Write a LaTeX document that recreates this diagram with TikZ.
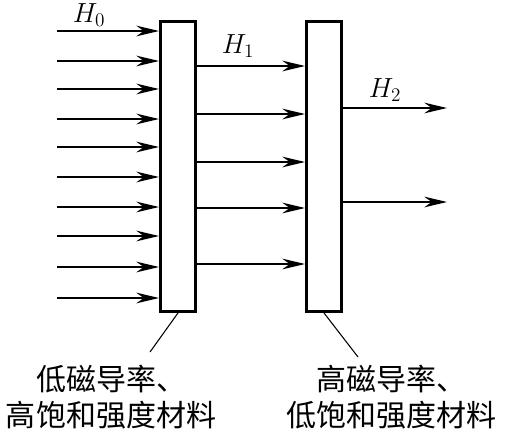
\documentclass[tikz,border=0pt]{standalone}
\usepackage{fontspec}
\newfontfamily\cjk{Noto Sans CJK SC}
\usetikzlibrary{arrows.meta}
\begin{document}
\begin{tikzpicture}[x=0.75pt,y=-0.75pt,
  panel/.style={draw, line width=2.2pt, minimum width=26.25pt, minimum height=217.5pt, inner sep=0pt, fill=white},
  fluxarrow/.style={line width=1pt, -{Stealth[length=17pt,width=8pt,inset=5.5pt]}},
  leader/.style={line width=0.8pt},
  hlabel/.style={font=\fontsize{22}{26}\selectfont, inner sep=0pt},
  material/.style={font=\cjk\fontsize{22.5}{27}\selectfont, align=center, inner sep=0pt}]
\useasboundingbox (0,0) rectangle (505,431);
\node[panel] (box1) at (178,166.5) {};
\node[panel] (box2) at (324,166.5) {};
% incoming H0
\foreach \y [count=\i] in {31,61,89,119,147,177,207,236,267,298}{
  \coordinate (l\i) at (57,\y);
  \draw[fluxarrow] (l\i) -- (l\i -| box1.west);
}
% H1 between panels
\foreach \y [count=\i] in {66,114,162,208,264}{
  \coordinate (m\i) at (box1.east |- 0,\y);
  \draw[fluxarrow] (m\i) -- (m\i -| box2.west);
}
% outgoing H2
\foreach \y [count=\i] in {108,202}{
  \coordinate (r\i) at (box2.east |- 0,\y);
  \coordinate (re\i) at (447,\y);
  \draw[fluxarrow] (r\i) -- (re\i);
}
\node[hlabel] (h0) at (89,15) {$H_0$};
\node[hlabel] (h1) at (238,46) {$H_1$};
\node[hlabel] (h2) at (385,90) {$H_2$};
\coordinate (e1) at (150,352);
\coordinate (e2) at (358,357);
\draw[leader] (box1.south) -- (e1);
\draw[leader] (box2.south) -- (e2);
\node[material] (t1) at (111,397) {低磁导率、\\高饱和强度材料};
\node[material] (t2) at (391,397) {高磁导率、\\低饱和强度材料};
\end{tikzpicture}
\end{document}
